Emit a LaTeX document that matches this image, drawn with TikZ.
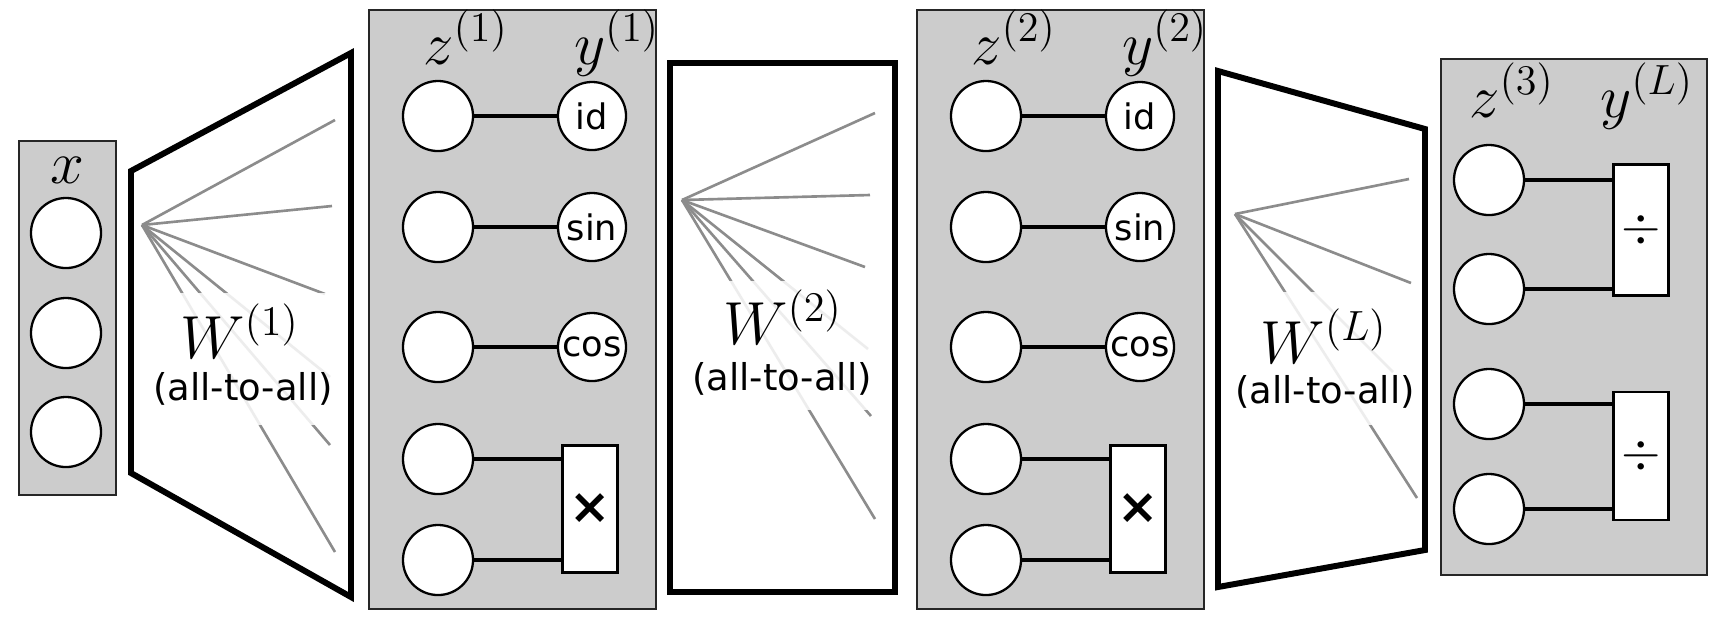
\documentclass[tikz,border=0pt]{standalone}
\usepackage[no-math]{fontspec}
\setmainfont{DejaVu Sans}
\usetikzlibrary{positioning,calc}
\definecolor{lay}{gray}{0.80}
\definecolor{wire}{gray}{0.55}
\tikzset{
  unit/.style={draw, circle, fill=white, line width=0.65pt, minimum size=7mm, inner sep=0pt},
  fnc/.style={draw, circle, fill=white, line width=0.65pt, minimum size=6.8mm, inner sep=0pt, font=\fontsize{10}{12}\selectfont},
  opbox/.style={draw, fill=white, line width=0.65pt, minimum width=5.5mm, minimum height=12.7mm, inner sep=0pt},
  layer/.style={draw=black!85, fill=lay, line width=0.6pt},
  wmap/.style={draw, line width=1.7pt},
  tie/.style={line width=1.35pt}}

\begin{document}
\begin{tikzpicture}[x=0.01cm, y=-0.01cm,
  lbl/.style={anchor=base, font=\fontsize{16.5}{19}\selectfont},
  wlbl/.style={anchor=base, font=\fontsize{17}{20}\selectfont},
  tlbl/.style={anchor=base, font=\fontsize{10.5}{12}\selectfont},
  fan/.style={draw=wire, line width=0.75pt},
  veil/.style={fill=white, fill opacity=0.85}]
\useasboundingbox (0,0) rectangle (1732,626);
% input
\draw[layer] (19,141) rectangle (116,495);
\node[lbl] (xl) at (67,183) {$x$};
\foreach \yy [count=\i] in {233,333,432} \node[unit] (x\i) at (66,\yy) {};
% weights
\draw[wmap] (131,171) -- (351,53) -- (351,597) -- (131,473) -- cycle;
\draw[wmap] (670,63) rectangle (895,592);
\draw[wmap] (1218,71) -- (1425,129) -- (1425,550) -- (1218,587) -- cycle;
\coordinate (f1) at (142,225);
\foreach \ex/\ey [count=\i] in {335/120,332/206,325/294,330/377,330/445,335/552}
  {\coordinate (f1e\i) at (\ex,\ey); \draw[fan] (f1) -- (f1e\i);}
\coordinate (f2) at (682,200);
\foreach \ex/\ey [count=\i] in {875/113,870/195,865/267,868/349,871/416,875/519}
  {\coordinate (f2e\i) at (\ex,\ey); \draw[fan] (f2) -- (f2e\i);}
\coordinate (f3) at (1235,214);
\foreach \ex/\ey [count=\i] in {1409/179,1411/283,1393/372,1417/498}
  {\coordinate (f3e\i) at (\ex,\ey); \draw[fan] (f3) -- (f3e\i);}
\fill[veil] (150,293) rectangle (340,425);
\fill[veil] (690,281) rectangle (882,410);
\fill[veil] (1240,292) rectangle (1418,425);
\node[wlbl] (w1) at (240,358) {$W^{(1)}$};
\node[tlbl] (a1) at (243,400) {(all-to-all)};
\node[wlbl] (w2) at (783,344) {$W^{(2)}$};
\node[tlbl] (a2) at (782,390) {(all-to-all)};
\node[wlbl] (w3) at (1324,363) {$W^{(L)}$};
\node[tlbl] (a3) at (1325,403) {(all-to-all)};
% hidden layers
\foreach \l/\dx in {1/0,2/548} {
  \draw[layer] (369+\dx,10) rectangle (656+\dx,609);
  \node[lbl] (zl\l) at (466+\dx,64) {$z^{(\l)}$};
  \node[lbl] (yl\l) at (617+\dx,64) {$y^{(\l)}$};
  \foreach \yy [count=\i] in {116,227,347,459,560}
    \node[unit] (z\l\i) at (438+\dx,\yy) {};
  \foreach \fname/\yy [count=\i] in {id/116,sin/227,cos/347} {
    \node[fnc] (y\l\i) at (592+\dx,\yy) {\fname};
    \draw[tie] (z\l\i) -- (y\l\i);}
  \node[opbox] (m\l) at (590+\dx,509) {\fontsize{14}{16}\selectfont\bfseries ×};
  \draw[tie] (z\l4) -- (z\l4 -| m\l.west);
  \draw[tie] (z\l5) -- (z\l5 -| m\l.west);
}
% output layer
\draw[layer] (1441,59) rectangle (1707,575);
\node[lbl] (zl3) at (1512,117) {$z^{(3)}$};
\node[lbl] (yl3) at (1647,117) {$y^{(L)}$};
\foreach \yy [count=\i] in {180,289,404,509} \node[unit] (z3\i) at (1489,\yy) {};
\node[opbox, minimum height=13.1mm] (d1) at (1641,230) {\fontsize{13.5}{15}\selectfont$\div$};
\node[opbox, minimum height=12.8mm] (d2) at (1641,456) {\fontsize{13.5}{15}\selectfont$\div$};
\foreach \i/\d in {1/d1,2/d1,3/d2,4/d2} \draw[tie] (z3\i) -- (z3\i -| \d.west);
\end{tikzpicture}
\end{document}
